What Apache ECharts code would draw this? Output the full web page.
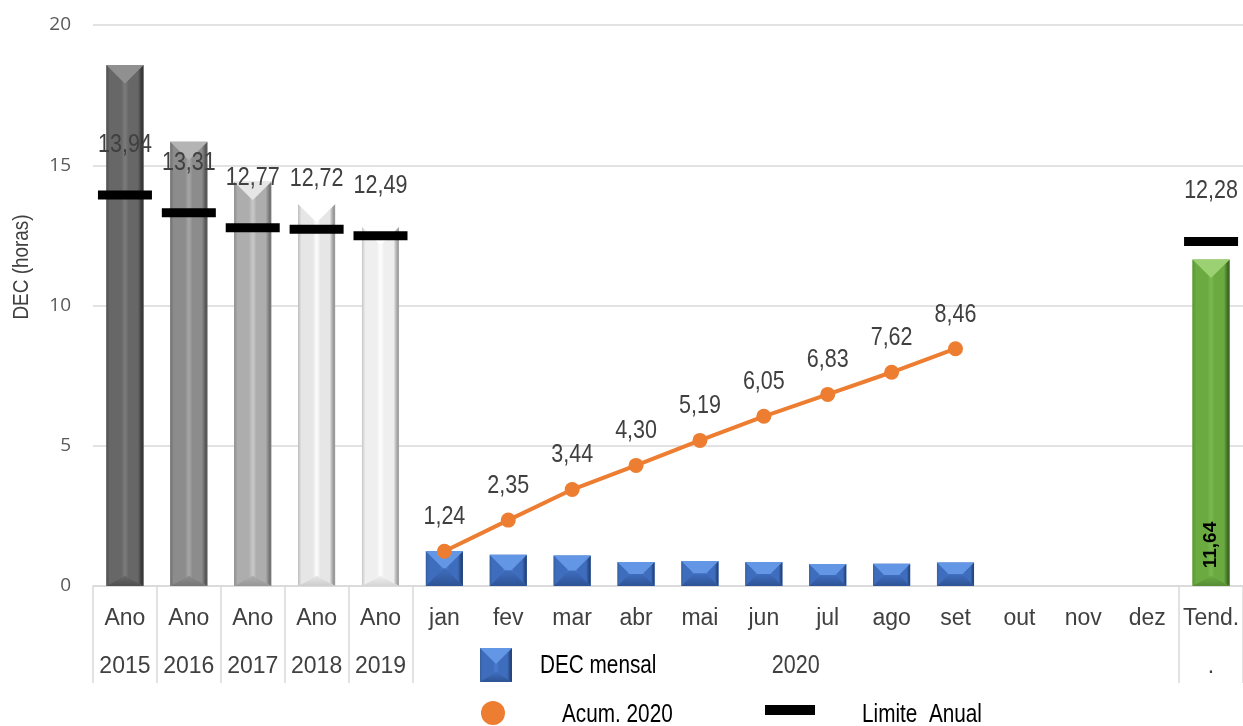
<!DOCTYPE html>
<html>
<head>
<meta charset="utf-8">
<script src="https://cdn.jsdelivr.net/npm/echarts@6/dist/echarts.min.js"></script>
<style>
  html, body { margin: 0; padding: 0; background: #fff; }
  #chart { width: 1243px; height: 726px; }
</style>
</head>
<body>
<div id="chart"></div>
<script>
// Categorias do eixo X (anos, meses de 2020 e tendência)
const categorias = ['Ano\n2015', 'Ano\n2016', 'Ano\n2017', 'Ano\n2018', 'Ano\n2019',
  'jan', 'fev', 'mar', 'abr', 'mai', 'jun', 'jul', 'ago', 'set', 'out', 'nov', 'dez', 'Tend.\n.'];
const anosIdx = [0, 1, 2, 3, 4];
const mesesIdx = [5, 6, 7, 8, 9, 10, 11, 12, 13];
const tendIdx = 17;

// DEC apurado por ano (horas)
const decAnual = [18.57, 15.84, 14.41, 13.62, 12.81];
// DEC mensal 2020 (horas)
const decMensal = [1.24, 1.11, 1.09, 0.86, 0.89, 0.86, 0.78, 0.79, 0.84];
// DEC acumulado 2020 (horas)
const acum2020 = [1.24, 2.35, 3.44, 4.30, 5.19, 6.05, 6.83, 7.62, 8.46];
// Limite anual: 2015..2019 e tendência
const limiteAnual = [13.94, 13.31, 12.77, 12.72, 12.49, 12.28];
const limiteIdx = [0, 1, 2, 3, 4, 17];
// Tendência anual
const tendencia = [11.64];

const yMin = 0, yMax = 20, yStep = 5;

const SANS = "'Liberation Sans', Arial, sans-serif";
const CONDENSE = 0.86; // largura estreita dos rótulos
const fmt = v => Number(v).toFixed(2).replace('.', ',');

// Paletas do efeito chanfrado
const cinzas = [
  { edgeL: '#4e4e4e', body: '#676767', hl: '#7c7c7c', edgeR: '#383838', top: '#909090', bottom: '#505050' },
  { edgeL: '#6e6e6e', body: '#8c8c8c', hl: '#a8a8a8', edgeR: '#585858', top: '#b4b4b4', bottom: '#767676' },
  { edgeL: '#8c8c8c', body: '#adadad', hl: '#cacaca', edgeR: '#767676', top: '#e6e6e6', bottom: '#979797' },
  { edgeL: '#bcbcbc', body: '#e6e6e6', hl: '#ffffff', edgeR: '#9a9a9a', top: '#ffffff', bottom: '#cdcdcd' },
  { edgeL: '#c6c6c6', body: '#efefef', hl: '#ffffff', edgeR: '#a4a4a4', top: '#ffffff', bottom: '#d4d4d4' }
];
const azul = { edgeL: '#34609f', body: '#3f6dbd', hl: '#4a7bd0', edgeR: '#26467f', top: '#6397e6', bottom: '#2e5396' };
const verde = { edgeL: '#5a9535', body: '#6aaa40', hl: '#79b94d', edgeR: '#3e6b24', top: '#9bd172', bottom: '#578c36' };

function lin(x2, y2, stops) {
  return { type: 'linear', x: 0, y: 0, x2: x2, y2: y2,
    colorStops: stops.map(s => ({ offset: s[0], color: s[1] })) };
}

// Retângulo chanfrado: faces superior, inferior, esquerda e direita
function bevelShapes(x0, y0, x1, y1, p) {
  const w = x1 - x0, h = y1 - y0;
  const xc = (x0 + x1) / 2, yc = (y0 + y1) / 2;
  let P1, P2, top, bottom, left, right;
  if (h >= w) {
    P1 = [xc, y0 + w / 2];
    P2 = [xc, y1 - Math.min(w / 2, 10)];
    top = [[x0, y0], [x1, y0], P1];
    bottom = [[x0, y1], [x1, y1], P2];
    left = [[x0, y0], P1, P2, [x0, y1]];
    right = [[x1, y0], P1, P2, [x1, y1]];
  } else {
    P1 = [x0 + h / 2, yc]; P2 = [x1 - h / 2, yc];
    top = [[x0, y0], [x1, y0], P2, P1];
    bottom = [[x0, y1], [x1, y1], P2, P1];
    left = [[x0, y0], P1, [x0, y1]];
    right = [[x1, y0], P2, [x1, y1]];
  }
  return [
    { type: 'rect', shape: { x: x0, y: y0, width: w, height: h }, style: { fill: p.body } },
    { type: 'polygon', shape: { points: left },
      style: { fill: lin(1, 0, [[0, p.edgeL], [0.18, p.body], [0.8, p.body], [1, p.hl]]) } },
    { type: 'polygon', shape: { points: right },
      style: { fill: lin(1, 0, [[0, p.hl], [0.2, p.body], [0.7, p.body], [0.9, p.edgeR], [1, p.edgeR]]) } },
    { type: 'polygon', shape: { points: top },
      style: { fill: lin(0, 1, [[0, p.top], [1, p.top]]) } },
    { type: 'polygon', shape: { points: bottom },
      style: { fill: lin(0, 1, [[0, p.body], [1, p.bottom]]) } }
  ];
}

function barRender(palettes, withInnerLabel) {
  return function (params, api) {
    const p = palettes[params.dataIndex % palettes.length];
    const topPt = api.coord([api.value(0), api.value(1)]);
    const basePt = api.coord([api.value(0), 0]);
    const w = api.size([1, 0])[0] * 0.58;
    const x0 = topPt[0] - w / 2, x1 = topPt[0] + w / 2;
    const children = bevelShapes(x0, topPt[1], x1, basePt[1], p);
    if (withInnerLabel) {
      children.push({
        type: 'text', x: topPt[0], y: basePt[1] - 41, rotation: Math.PI / 2,
        style: { text: fmt(api.value(1)), fill: '#000', font: 'bold 19px ' + SANS,
          align: 'center', verticalAlign: 'middle' }
      });
    }
    return { type: 'group', children: children };
  };
}

function valueText(x, y, v) {
  return { type: 'text', x: x, y: y, scaleX: CONDENSE,
    style: { text: fmt(v), fill: '#404040', font: '25px ' + SANS, align: 'center', verticalAlign: 'middle' } };
}

function limiteRender(params, api) {
  const pt = api.coord([api.value(0), api.value(1)]);
  return {
    type: 'group',
    children: [
      { type: 'rect', shape: { x: pt[0] - 27, y: pt[1] - 4.5, width: 54, height: 9 }, style: { fill: '#000' } },
      valueText(pt[0], pt[1] - 50, api.value(1))
    ]
  };
}

function acumLabelRender(params, api) {
  const pt = api.coord([api.value(0), api.value(1)]);
  return valueText(pt[0], pt[1] - 34, api.value(1));
}

const chart = echarts.init(document.getElementById('chart'), null, { renderer: 'canvas' });

const option = {
  animation: false,
  backgroundColor: '#ffffff',
  grid: { left: 93, right: -1, top: 25, bottom: 140, containLabel: false },
  xAxis: {
    type: 'category',
    data: categorias,
    boundaryGap: true,
    axisLine: { show: true, lineStyle: { color: '#d9d9d9', width: 1.5 } },
    axisTick: {
      show: true, length: 97, lineStyle: { color: '#d9d9d9', width: 1.5 },
      interval: function (index) { return index <= 5 || index === 17; }
    },
    axisLabel: {
      interval: 0, margin: 9, color: '#404040', fontFamily: SANS, fontSize: 23, lineHeight: 48
    },
    splitLine: { show: false }
  },
  yAxis: {
    type: 'value', min: yMin, max: yMax, interval: yStep,
    axisLine: { show: false }, axisTick: { show: false },
    axisLabel: { margin: 22, color: '#595959', fontFamily: "'Open Sans', sans-serif", fontSize: 19 },
    splitLine: { lineStyle: { color: '#d9d9d9', width: 1.5 } }
  },
  series: [
    {
      name: 'DEC anual', type: 'custom', z: 2,
      renderItem: barRender(cinzas, false),
      encode: { x: 0, y: 1 },
      data: anosIdx.map((c, i) => [c, decAnual[i]])
    },
    {
      name: 'DEC mensal', type: 'custom', z: 2,
      renderItem: barRender([azul], false),
      encode: { x: 0, y: 1 },
      data: mesesIdx.map((c, i) => [c, decMensal[i]])
    },
    {
      name: 'Tendência', type: 'custom', z: 2,
      renderItem: barRender([verde], true),
      encode: { x: 0, y: 1 },
      data: [[tendIdx, tendencia[0]]]
    },
    {
      name: 'Acum. 2020', type: 'line', z: 4,
      data: mesesIdx.map((c, i) => [c, acum2020[i]]),
      symbol: 'circle', symbolSize: 15,
      lineStyle: { color: '#ed7d31', width: 4 },
      itemStyle: { color: '#ed7d31' },
      label: { show: false }
    },
    {
      name: 'Acum. 2020 rótulos', type: 'custom', z: 5,
      renderItem: acumLabelRender,
      encode: { x: 0, y: 1 },
      data: mesesIdx.map((c, i) => [c, acum2020[i]])
    },
    {
      name: 'Limite Anual', type: 'custom', z: 5,
      renderItem: limiteRender,
      encode: { x: 0, y: 1 },
      data: limiteIdx.map((c, i) => [c, limiteAnual[i]])
    }
  ]
};

chart.setOption(option);

// Rótulo do grupo 2020 centrado sob os meses, título do eixo Y e legenda
const xJan = chart.convertToPixel({ xAxisIndex: 0 }, 5);
const xDez = chart.convertToPixel({ xAxisIndex: 0 }, 16);
const yBase = chart.convertToPixel({ yAxisIndex: 0 }, 0);

function legendText(x, y, text, color) {
  return { type: 'text', x: x, y: y, scaleX: 0.83,
    style: { text: text, fill: color, font: '25px ' + SANS, align: 'left', verticalAlign: 'middle' } };
}

chart.setOption({
  graphic: [
    { type: 'text', x: (xJan + xDez) / 2, y: yBase + 80, scaleX: CONDENSE,
      style: { text: '2020', fill: '#404040', font: '25px ' + SANS, align: 'center', verticalAlign: 'middle' } },
    { type: 'text', x: 22, y: 267, rotation: Math.PI / 2, scaleX: 0.86,
      style: { text: 'DEC (horas)', fill: '#404040', font: '22px ' + SANS, align: 'center', verticalAlign: 'middle' } },
    { type: 'group', children: bevelShapes(480, 648, 512, 682, azul) },
    legendText(540, 666, 'DEC mensal', '#000'),
    { type: 'circle', shape: { cx: 493, cy: 713, r: 12 }, style: { fill: '#ed7d31' } },
    legendText(562, 715, 'Acum. 2020', '#000'),
    { type: 'rect', shape: { x: 765, y: 705, width: 50, height: 10 }, style: { fill: '#000' } },
    legendText(862, 715, 'Limite  Anual', '#000')
  ]
});
</script>
</body>
</html>
